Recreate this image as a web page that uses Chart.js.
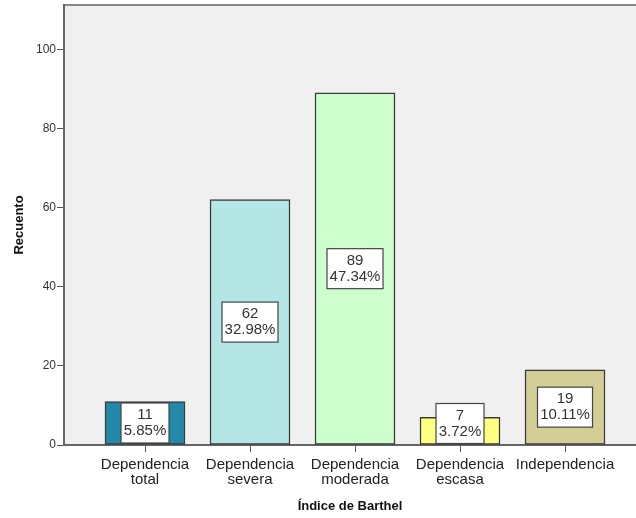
<!DOCTYPE html>
<html>
<head>
<meta charset="utf-8">
<script src="https://cdn.jsdelivr.net/npm/chart.js@4.4.1/dist/chart.umd.min.js"></script>
<style>
  html, body { margin: 0; padding: 0; background: #ffffff; }
  canvas { display: block; }
</style>
</head>
<body>
<canvas id="c" width="636" height="518"></canvas>
<script>
// ---- Data ----
const categories = ["Dependencia total", "Dependencia severa", "Dependencia moderada", "Dependencia escasa", "Independencia"];
const counts = [11, 62, 89, 7, 19];
const percents = ["5.85%", "32.98%", "47.34%", "3.72%", "10.11%"];
const barColors = ["#2389AA", "#B4E6E6", "#CCFFCC", "#FFFF80", "#D3CE96"];
const yTicks = [0, 20, 40, 60, 80, 100];

const FONT = '"Liberation Sans", Arial, sans-serif';

const bgPlugin = {
  id: 'plotBg',
  beforeDraw(chart) {
    const { ctx, chartArea: a } = chart;
    ctx.save();
    ctx.fillStyle = '#F0F0F0';
    ctx.fillRect(a.left, a.top, a.right - a.left, a.bottom - a.top);
    ctx.strokeStyle = '#888888';
    ctx.lineWidth = 2;
    ctx.beginPath();
    ctx.moveTo(a.left, a.top);
    ctx.lineTo(a.right, a.top);
    ctx.stroke();
    ctx.restore();
  }
};

const labelPlugin = {
  id: 'boxLabels',
  afterDatasetsDraw(chart) {
    const ctx = chart.ctx;
    const meta = chart.getDatasetMeta(0);
    ctx.save();
    ctx.font = '15px ' + FONT;
    meta.data.forEach((bar, i) => {
      const lines = [String(counts[i]), percents[i]];
      const tw = Math.max(...lines.map(l => ctx.measureText(l).width));
      const w = Math.round(tw + 5);
      const h = 40;
      let top = (bar.y + bar.base) / 2 - h / 2;
      if (top + h > bar.base - 1) top = bar.base - 1 - h;
      const left = bar.x - w / 2;
      ctx.fillStyle = '#ffffff';
      ctx.fillRect(left, top, w, h);
      ctx.strokeStyle = '#444444';
      ctx.lineWidth = 1.2;
      ctx.strokeRect(left, top, w, h);
      ctx.fillStyle = '#333333';
      ctx.textAlign = 'center';
      ctx.textBaseline = 'middle';
      ctx.fillText(lines[0], bar.x, top + h / 2 - 8);
      ctx.fillText(lines[1], bar.x, top + h / 2 + 8);
    });
    ctx.restore();
  }
};

new Chart(document.getElementById('c'), {
  type: 'bar',
  data: {
    datasets: [{
      data: counts.map((v, i) => ({ x: i, y: v })),
      backgroundColor: barColors,
      borderColor: '#3a3a3a',
      borderWidth: 1.5,
      borderSkipped: false,
      barThickness: 80
    }]
  },
  options: {
    responsive: false,
    animation: false,
    layout: { padding: { top: 5, right: 0, left: 0, bottom: 0 } },
    plugins: { legend: { display: false }, tooltip: { enabled: false } },
    scales: {
      x: {
        type: 'linear',
        offset: false,
        min: -0.7714,
        max: 4.676,
        afterBuildTicks(scale) { scale.ticks = categories.map((c, i) => ({ value: i })); },
        afterFit(scale) { scale.height = 73; },
        grid: { offset: false, drawOnChartArea: false, drawTicks: true, tickLength: 7, color: '#555555', lineWidth: 1 },
        border: { display: true, color: '#666666', width: 2 },
        ticks: {
          autoSkip: false,
          maxRotation: 0,
          padding: 5,
          color: '#222222',
          font: { family: FONT, size: 15, lineHeight: 1.0 },
          callback: (v) => { const s = categories[v]; return s.includes(' ') ? s.split(' ') : s; }
        },
        title: {
          display: true,
          text: 'Índice de Barthel',
          color: '#111111',
          font: { family: FONT, size: 13, weight: 'bold' },
          padding: { top: 0, bottom: 4 }
        }
      },
      y: {
        min: 0,
        max: 111.2,
        afterBuildTicks(scale) { scale.ticks = yTicks.map(v => ({ value: v })); },
        afterFit(scale) { scale.width = 64; scale.paddingTop = 0; },
        grid: { drawOnChartArea: false, drawTicks: true, tickLength: 7, color: '#555555', lineWidth: 1 },
        border: { display: true, color: '#666666', width: 2 },
        ticks: {
          padding: 1,
          color: '#333333',
          font: { family: FONT, size: 12 }
        },
        title: {
          display: true,
          text: 'Recuento',
          color: '#111111',
          font: { family: FONT, size: 13, weight: 'bold' },
          padding: { top: 12, bottom: 4 }
        }
      }
    }
  },
  plugins: [bgPlugin, labelPlugin]
});
</script>
</body>
</html>
